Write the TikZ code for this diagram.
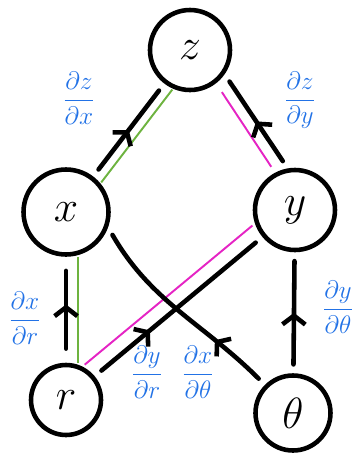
\documentclass[tikz,border=0pt]{standalone}
\usepackage{tikz}
\usetikzlibrary{arrows.meta,decorations.markings,calc}
\definecolor{lblCol}{HTML}{2272E6}
\definecolor{grnCol}{HTML}{6DB33F}
\definecolor{magCol}{HTML}{E524C4}
\tikzset{
  var/.style={draw, circle, line width=2.6pt, minimum size=#1, inner sep=0pt,
        font=\fontsize{34}{34}\selectfont},
  dep/.style={line width=2.6pt, line cap=round, shorten <=5pt, shorten >=5pt,
        postaction={decorate}, decoration={markings,
        mark=at position #1 with {\arrow{Straight Barb[length=5pt,width=13pt]}}}},
  hlg/.style={grnCol, line width=1.1pt},
  hlm/.style={magCol, line width=1.1pt},
  dlbl/.style={text=lblCol, font=\Large, inner sep=0pt},
}
\begin{document}
\begin{tikzpicture}
  \useasboundingbox (0,0) rectangle (7.24,-9.14);
  % variables
  \node[var=1.6cm] (nz) at (3.80,-1.00) {$z$};
  \node[var=1.7cm] (nx) at (1.32,-4.24) {$x$};
  \node[var=1.6cm] (ny) at (5.90,-4.20) {$y$};
  \node[var=1.4cm] (nr) at (1.32,-8.00) {$r$};
  \node[var=1.5cm] (nth) at (5.86,-8.26) {$\theta$};
  % highlighted paths r -> x -> z and r -> y -> z
  \draw[hlg, transform canvas={xshift=0.24cm}] (nr) -- (nx);
  \draw[hlg, transform canvas={shift={(0.16,-0.12)}}] (nx) -- (nz);
  \draw[hlm, transform canvas={shift={(-0.2,0.23)}}] (nr) -- (ny);
  \draw[hlm, shorten <=4pt, shorten >=6pt] (ny.118) -- (nz.-52);
  % dependencies
  \draw[dep=0.5] (nx) -- (nz);
  \draw[dep=0.5] (ny.100) -- (nz.-35);
  \draw[dep=0.55, shorten <=8pt, shorten >=8pt] (nr) -- (nx);
  \draw[dep=0.5] (nth) -- (ny);
  \draw[dep=0.33] (nr) -- (ny);
  \draw[dep=0.3] (nth.135) to[out=135,in=-60] (nx.-20);
  % partial derivatives
  \node[dlbl] (lzx) at (1.58,-1.96) {$\displaystyle\frac{\partial z}{\partial x}$};
  \node[dlbl] (lzy) at (6.00,-2.00) {$\displaystyle\frac{\partial z}{\partial y}$};
  \node[dlbl] (lxr) at (0.50,-6.36) {$\displaystyle\frac{\partial x}{\partial r}$};
  \node[dlbl] (lyr) at (2.94,-7.44) {$\displaystyle\frac{\partial y}{\partial r}$};
  \node[dlbl] (lxt) at (3.96,-7.44) {$\displaystyle\frac{\partial x}{\partial \theta}$};
  \node[dlbl] (lyt) at (6.76,-6.14) {$\displaystyle\frac{\partial y}{\partial \theta}$};
\end{tikzpicture}
\end{document}
